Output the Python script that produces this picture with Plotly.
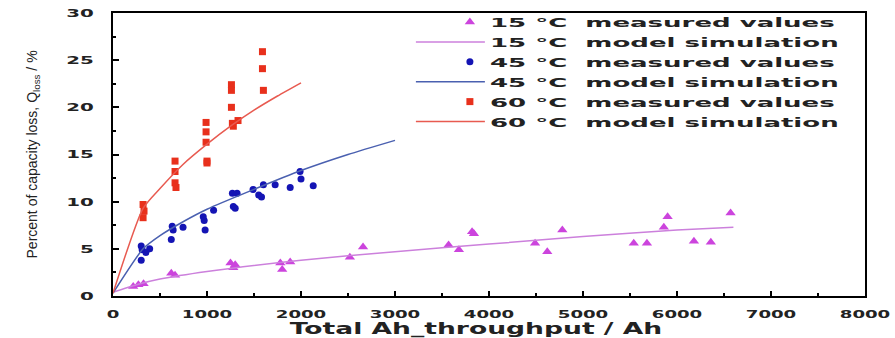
import plotly.graph_objects as go

# 15 °C measured values (Ah, %)
m15_x = [215, 270, 325, 620, 660, 1250, 1280, 1300, 1780, 1800, 1885, 2520, 2660,
         3570, 3680, 3820, 3840, 4490, 4620, 4780, 5540, 5680, 5860, 5900, 6180, 6360, 6570]
m15_y = [1.0, 1.2, 1.3, 2.4, 2.2, 3.5, 3.0, 3.3, 3.5, 2.8, 3.6, 4.1, 5.2,
         5.4, 4.9, 6.8, 6.6, 5.6, 4.7, 7.0, 5.6, 5.6, 7.3, 8.4, 5.8, 5.7, 8.8]
# 15 °C model simulation
s15_x = [0, 250, 500, 1000, 2000, 3000, 4000, 5000, 6000, 6600]
s15_y = [0.4, 1.2, 1.8, 2.6, 3.8, 4.7, 5.5, 6.3, 7.0, 7.3]

# 45 °C measured values
m45_x = [300, 310, 300, 390, 350, 630, 640, 620, 745, 960, 970, 980, 1070, 1270, 1280, 1300, 1320,
         1490, 1550, 1600, 1580, 1725, 1885, 1990, 2000, 2130]
m45_y = [5.3, 4.9, 3.8, 5.0, 4.6, 7.4, 7.0, 6.0, 7.3, 8.4, 8.0, 7.0, 9.1, 10.9, 9.5, 9.3, 10.9,
         11.3, 10.7, 11.8, 10.5, 11.8, 11.5, 13.2, 12.4, 11.7]
# 45 °C model simulation
s45_x = [0, 320, 500, 750, 1000, 1500, 2000, 2500, 3000]
s45_y = [0.3, 5.0, 6.4, 7.9, 9.2, 11.3, 13.3, 15.0, 16.5]

# 60 °C measured values
m60_x = [320, 320, 330, 660, 660, 660, 670, 990, 990, 990, 1000, 1000,
         1260, 1260, 1260, 1270, 1280, 1330, 1590, 1590, 1600]
m60_y = [9.7, 8.3, 9.0, 14.3, 13.2, 12.0, 11.5, 18.4, 17.4, 16.3, 14.1, 14.3,
         22.4, 21.8, 20.0, 18.3, 18.0, 18.6, 25.9, 24.1, 21.8]
# 60 °C model simulation
s60_x = [0, 320, 500, 750, 1000, 1250, 1500, 1750, 2000]
s60_y = [0.3, 9.3, 11.4, 14.0, 16.1, 18.0, 19.7, 21.2, 22.6]

x_ticks = [0, 1000, 2000, 3000, 4000, 5000, 6000, 7000, 8000]
y_ticks = [0, 5, 10, 15, 20, 25, 30]

C15, C15L = "#cc44dd", "#cc80dc"
C45, C45L = "#1414b4", "#4a60b0"
C60, C60L = "#e8301c", "#e85a50"

fig = go.Figure()
fig.add_trace(go.Scatter(x=m15_x, y=m15_y, mode="markers", name="15 °C  measured values",
                         marker=dict(symbol="triangle-up", size=9, color=C15)))
fig.add_trace(go.Scatter(x=s15_x, y=s15_y, mode="lines", name="15 °C  model simulation",
                         line=dict(color=C15L, width=1.5, shape="spline", smoothing=0.6)))
fig.add_trace(go.Scatter(x=m45_x, y=m45_y, mode="markers", name="45 °C  measured values",
                         marker=dict(symbol="circle", size=7, color=C45)))
fig.add_trace(go.Scatter(x=s45_x, y=s45_y, mode="lines", name="45 °C  model simulation",
                         line=dict(color=C45L, width=1.5, shape="spline", smoothing=0.6)))
fig.add_trace(go.Scatter(x=m60_x, y=m60_y, mode="markers", name="60 °C  measured values",
                         marker=dict(symbol="square", size=7, color=C60)))
fig.add_trace(go.Scatter(x=s60_x, y=s60_y, mode="lines", name="60 °C  model simulation",
                         line=dict(color=C60L, width=1.5, shape="spline", smoothing=0.6)))

tick_font = dict(family="DejaVu Sans", size=11, weight="bold", color="#222")

fig.update_layout(
    width=895, height=338,
    margin=dict(l=113, r=30, t=13, b=42, autoexpand=False),
    paper_bgcolor="white", plot_bgcolor="white",
    font=dict(family="Liberation Sans", color="#222"),
    showlegend=True,
    legend=dict(x=0.448, y=1.021, xanchor="left", yanchor="top",
                bgcolor="rgba(0,0,0,0)", borderwidth=0,
                font=dict(family="DejaVu Sans", size=13, color="#222", weight="bold"),
                tracegroupgap=0, itemsizing="trace"),
    xaxis=dict(range=[0, 8000], tickvals=x_ticks, ticktext=[str(v) for v in x_ticks],
               automargin=False,
               showgrid=False, zeroline=False, showline=True, linecolor="black", linewidth=2,
               mirror=True, ticks="inside", ticklen=5, tickwidth=2, tickcolor="black",
               minor=dict(dtick=500, ticks="inside", ticklen=3, tickwidth=2, tickcolor="black"),
               ticklabelstandoff=7,
               tickfont=tick_font,
               title=dict(text="Total Ah_throughput / Ah", standoff=4,
                          font=dict(family="DejaVu Sans", size=15, weight="bold", color="#222"))),
    yaxis=dict(range=[0, 30], tickvals=y_ticks, ticktext=[str(v) for v in y_ticks],
               automargin=False,
               showgrid=False, zeroline=False, showline=True, linecolor="black", linewidth=2,
               mirror=True, ticks="inside", ticklen=6, tickwidth=2, tickcolor="black",
               minor=dict(dtick=2.5, ticks="inside", ticklen=3, tickwidth=2, tickcolor="black"),
               ticklabelstandoff=15,
               tickfont=tick_font),
    annotations=[dict(text="Percent of capacity loss, Q<sub>loss</sub> / %",
                      xref="paper", yref="paper", x=-0.1064, y=0.5,
                      xanchor="center", yanchor="middle", textangle=-90, showarrow=False,
                      font=dict(family="Liberation Sans Narrow, Liberation Sans", size=14, color="#222"))],
)

css = (
    ".legend .scrollbox{clip-path:none !important;}"
    "g.legendlines path{transform:translateX(35px) scaleX(2.3) translateX(-35px);}"
    "g.xtick{transform-box:fill-box;transform-origin:center;transform:scaleX(1.65);}"
    "g.ytick{transform-box:fill-box;transform-origin:right center;transform:scaleX(1.8);}"
)
post = (
    "document.body.style.margin='0';"
    "var s=document.createElement('style');s.textContent='" + css + "';"
    "document.head.appendChild(s);"
    "function st(sel,k){document.querySelectorAll(sel).forEach(function(t){"
    "if(t.getAttribute('data-st')){return;}"
    "var L=t.getComputedTextLength();if(L>0){t.setAttribute('textLength',L*k);"
    "t.setAttribute('lengthAdjust','spacingAndGlyphs');t.setAttribute('data-st','1');}});}"
    "function all(){st('.legendtext',2.0);st('.xtitle',1.77);"
    "var xt=document.querySelector('.xtitle');if(xt&&!xt.getAttribute('data-sh')){"
    "xt.setAttribute('x',parseFloat(xt.getAttribute('x'))-13);xt.setAttribute('data-sh','1');}}"
    "all();setTimeout(all,50);setTimeout(all,300);"
)

fig.write_html("out.html", config={"displayModeBar": False}, post_script=post)
